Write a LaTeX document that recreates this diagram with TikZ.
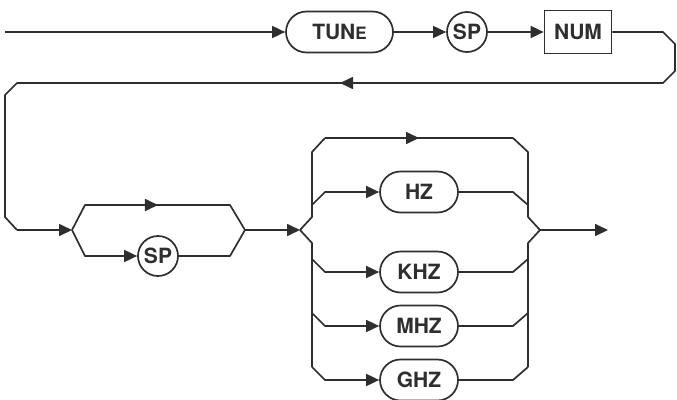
\documentclass[tikz,border=0pt]{standalone}
\usepackage{fontspec}
\setsansfont{TeX Gyre Heros}
\usetikzlibrary{calc, positioning}
\usetikzlibrary{arrows.meta}
\usetikzlibrary{shapes.misc}
\usetikzlibrary{decorations.markings}

\newcommand{\railfont}{\fontsize{21}{24}\selectfont\sffamily\bfseries}
\colorlet{railink}{black!82}
\tikzset{
  rail/.style={draw=railink,line width=1.7pt,line join=round},
  railtip/.style={-{Triangle[length=13pt,width=12pt]}},
  midtip/.style={postaction={decorate},decoration={markings,
    mark=at position #1 with {\arrow{Triangle[length=13pt,width=12pt]}}}},
  keyword/.style={rounded rectangle,draw=railink,line width=1.7pt,inner sep=0pt,
    minimum height=41pt,font=\railfont,text=railink},
  sepcircle/.style={circle,draw=railink,line width=1.7pt,inner sep=0pt,
    minimum size=40pt,font=\railfont,text=railink},
  valuebox/.style={rectangle,draw=railink,line width=1.7pt,inner sep=0pt,
    minimum width=67pt,minimum height=43pt,font=\railfont,text=railink}
}

\begin{document}
\begin{tikzpicture}[x=1pt,y=-1pt]
\useasboundingbox (0,0) rectangle (677,399);

\node[keyword,minimum width=107pt] (tune) at (339.5,32) {TUN{\fontsize{17}{17}\selectfont E}};
\node[sepcircle] (spone) at (467,32) {SP};
\node[valuebox] (num) at (578,32) {NUM};
\node[sepcircle] (sptwo) at (158,256) {SP};

\coordinate (start) at (5,32);
\coordinate (optsplit) at (72,230);
\coordinate (optjoin) at (245,230);
\coordinate (unitsplit) at (300,230);
\coordinate (unitjoin) at (540,230);
\coordinate (finish) at (608,230);

\draw[rail,railtip] (start) -- (tune);
\draw[rail,railtip] (tune) -- (spone);
\draw[rail,railtip] (spone) -- (num);
\draw[rail] (num.east) -- (663,32) -- (675,44) -- (675,71) -- (663,83) -- (17,83)
  -- (5,95) -- (5,217) -- (17,230);
\draw[rail,midtip=0.5] (663,83) -- (17,83);
\draw[rail,railtip] (17,230) -- (optsplit);

\draw[rail,midtip=0.5] (optsplit) -- (85,205) -- (230,205) -- (optjoin);
\draw[rail,railtip] (optsplit) -- (85,256) -- (sptwo);
\draw[rail] (sptwo) -- (230,256) -- (optjoin);
\draw[rail,railtip] (optjoin) -- (unitsplit);

\draw[rail] (unitsplit) -- (312,217) -- (312,152) -- (325,138);
\draw[rail,midtip=0.5] (325,138) -- (513,138);
\draw[rail] (513,138) -- (528,152) -- (528,217) -- (unitjoin);
\draw[rail] (unitsplit) -- (312,243) -- (312,367);
\draw[rail] (unitjoin) -- (528,243) -- (528,367);

\foreach \unit/\txt/\yy/\dy in {hz/HZ/192/13,khz/KHZ/272/-13,mhz/MHZ/326/-13,ghz/GHZ/380/-13} {
  \node[keyword,minimum width=78pt] (\unit) at (419,\yy) {\txt};
  \draw[rail,railtip] (312,\yy+\dy) -- (325,\yy) -- (\unit);
  \draw[rail] (\unit) -- (513,\yy) -- (528,\yy+\dy);
}

\draw[rail,railtip] (unitjoin) -- (finish);
\end{tikzpicture}
\end{document}
